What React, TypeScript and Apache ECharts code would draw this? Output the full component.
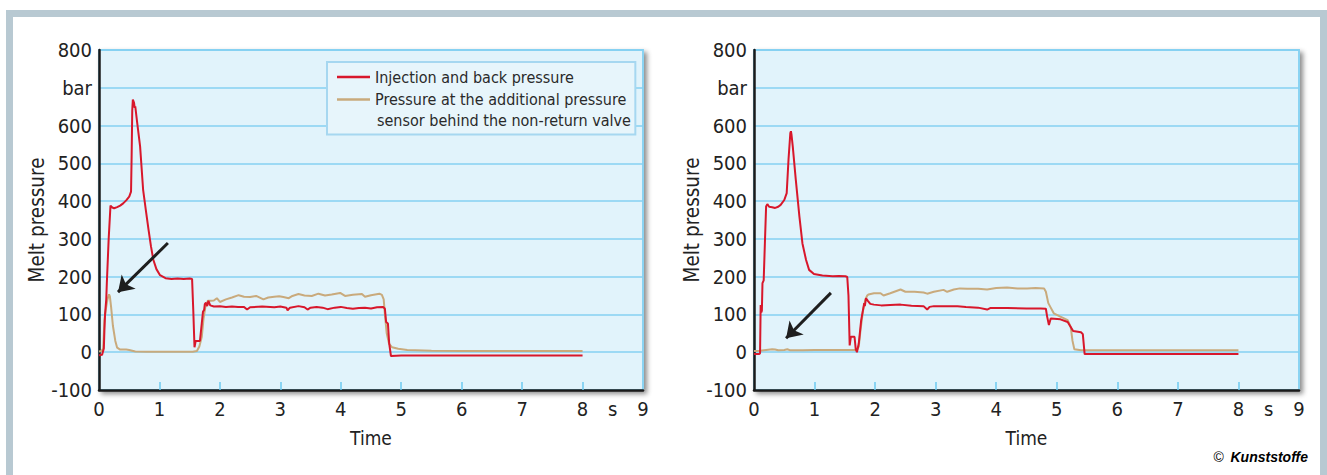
import React, { useEffect, useRef } from "react";
import * as echarts from "echarts";

// ---- Data (time in s, melt pressure in bar) ----
const leftInjection: [number, number][] = [
  [0, -8], [0.05, -7], [0.08, 10], [0.09, 60], [0.1, 100], [0.12, 140], [0.13, 185], [0.16, 300], [0.19, 388],
  [0.22, 383], [0.25, 381], [0.3, 384], [0.35, 388], [0.4, 394], [0.45, 402], [0.5, 412], [0.53, 425],
  [0.54, 520], [0.55, 640], [0.56, 669], [0.58, 660], [0.59, 647], [0.6, 651], [0.63, 610], [0.68, 545],
  [0.73, 430], [0.78, 370], [0.82, 324], [0.86, 280], [0.9, 244], [0.95, 220], [1.01, 204], [1.1, 196],
  [1.2, 194], [1.3, 195], [1.4, 194], [1.5, 195], [1.54, 194], [1.56, 110], [1.58, 13], [1.6, 30],
  [1.67, 30], [1.7, 76], [1.72, 107], [1.74, 112], [1.75, 127], [1.77, 131], [1.79, 122], [1.81, 136],
  [1.84, 124], [1.9, 121], [2.0, 122], [2.1, 120], [2.2, 121], [2.3, 120], [2.4, 120], [2.45, 113],
  [2.5, 119], [2.7, 121], [2.9, 119], [3.0, 121], [3.1, 118], [3.12, 111], [3.16, 118], [3.3, 122],
  [3.4, 119], [3.45, 113], [3.5, 118], [3.6, 120], [3.7, 118], [3.78, 114], [3.9, 118], [4.0, 120],
  [4.1, 117], [4.2, 115], [4.3, 117], [4.4, 118], [4.5, 116], [4.6, 119], [4.7, 120], [4.73, 115],
  [4.75, 80], [4.78, 76], [4.8, 25], [4.83, -10], [5.0, -9], [5.5, -9], [6.0, -9], [7.0, -9], [8.0, -9]
];

const leftSensor: [number, number][] = [
  [0, 2], [0.04, 3], [0.07, 10], [0.09, 85], [0.11, 110], [0.14, 140], [0.166, 153], [0.18, 148],
  [0.2, 120], [0.23, 70], [0.27, 30], [0.3, 12], [0.35, 7], [0.45, 7], [0.5, 6], [0.6, 2], [0.8, 1],
  [1.0, 1], [1.2, 1], [1.4, 1], [1.55, 1], [1.62, 3], [1.66, 15], [1.7, 40], [1.73, 90], [1.76, 120],
  [1.8, 136], [1.85, 136], [1.9, 137], [1.95, 143], [2.0, 133], [2.1, 140], [2.2, 145], [2.31, 151],
  [2.4, 147], [2.5, 146], [2.6, 149], [2.72, 140], [2.8, 145], [2.9, 147], [2.98, 148], [3.05, 146],
  [3.14, 143], [3.2, 149], [3.3, 154], [3.4, 150], [3.52, 149], [3.63, 155], [3.74, 150], [3.85, 153],
  [3.99, 157], [4.07, 149], [4.2, 152], [4.35, 154], [4.4, 147], [4.5, 151], [4.64, 155], [4.68, 152],
  [4.71, 140], [4.73, 100], [4.76, 50], [4.8, 22], [4.85, 13], [4.95, 9], [5.1, 6], [5.5, 4], [6.0, 3],
  [7.0, 3], [8.0, 3]
];

const rightInjection: [number, number][] = [
  [0, -5], [0.08, -5], [0.1, -3], [0.11, 125], [0.12, 105], [0.13, 110], [0.14, 183], [0.16, 190],
  [0.18, 290], [0.2, 386], [0.22, 392], [0.25, 385], [0.3, 384], [0.35, 382], [0.4, 385], [0.44, 390],
  [0.5, 403], [0.54, 421], [0.57, 510], [0.6, 580], [0.61, 585], [0.62, 575], [0.64, 545], [0.69, 457],
  [0.75, 359], [0.8, 288], [0.86, 244], [0.91, 218], [0.99, 207], [1.13, 203], [1.3, 201], [1.4, 202],
  [1.51, 201], [1.54, 199], [1.56, 150], [1.58, 18], [1.6, 41], [1.66, 41], [1.68, 8], [1.7, 0],
  [1.73, 23], [1.77, 85], [1.82, 130], [1.83, 122], [1.85, 143], [1.88, 136], [1.92, 128], [1.98, 126],
  [2.1, 124], [2.25, 125], [2.42, 126], [2.6, 123], [2.8, 122], [2.86, 113], [2.9, 120], [2.97, 122],
  [3.2, 122], [3.36, 122], [3.5, 120], [3.7, 118], [3.85, 113], [3.9, 117], [4.18, 117], [4.5, 116],
  [4.73, 116], [4.82, 115], [4.84, 95], [4.87, 72], [4.9, 89], [5.06, 87], [5.18, 80], [5.23, 67],
  [5.27, 56], [5.4, 53], [5.43, 48], [5.46, -5], [5.6, -5], [6.0, -5], [7.0, -5], [8.0, -5]
];

const rightSensor: [number, number][] = [
  [0, 3], [0.1, 4], [0.2, 6], [0.3, 8], [0.35, 7], [0.4, 5], [0.5, 6], [0.55, 8], [0.6, 5], [0.8, 5],
  [1.0, 6], [1.2, 6], [1.4, 6], [1.6, 6], [1.7, 6], [1.73, 15], [1.76, 60], [1.8, 110], [1.84, 140],
  [1.87, 150], [1.89, 153], [1.98, 156], [2.09, 156], [2.14, 150], [2.25, 156], [2.42, 166], [2.5, 160],
  [2.65, 160], [2.8, 158], [2.86, 155], [2.97, 160], [3.13, 165], [3.19, 160], [3.3, 166], [3.4, 169],
  [3.52, 168], [3.7, 168], [3.85, 166], [4.0, 170], [4.18, 171], [4.35, 169], [4.51, 169], [4.65, 170],
  [4.79, 169], [4.82, 160], [4.86, 130], [4.9, 118], [4.95, 103], [5.06, 94], [5.18, 85], [5.23, 67],
  [5.26, 30], [5.29, 8], [5.4, 5], [6.0, 5], [7.0, 5], [8.0, 5]
];

// arrows (start, end) in data coordinates
const leftArrow: [number, number][] = [[1.14, 289], [0.314, 159]];
const rightArrow: [number, number][] = [[1.27, 157], [0.53, 37]];

const seriesNames = ["Injection and back pressure", "Pressure at the additional pressure"];
const legendExtraLine = "sensor behind the non-return valve";
const xLabelValues = [0, 1, 2, 3, 4, 5, 6, 7, 8, 8.5, 9];
const xTickValues = [1, 2, 3, 4, 5, 6, 7, 8];
const yUnitValue = 700;
const yUnitLabel = "bar";
const xUnitValue = 8.5;
const xUnitLabel = "s";
const xName = "Time";
const yName = "Melt pressure";

const RED = "#d8172b";
const TAN = "#c9aa7c";
const FONT = "'Liberation Sans Narrow', 'DejaVu Sans Condensed', 'Liberation Sans', sans-serif";
const TXT = "#222";

function makeAxes(gridIndex: number) {
  const x = {
    type: "value",
    gridIndex,
    min: 0,
    max: 9,
    interval: 1,
    name: xName,
    nameLocation: "middle",
    nameGap: 38,
    nameTextStyle: { fontFamily: FONT, fontSize: 19, color: TXT },
    axisLine: { onZero: false, lineStyle: { color: "#1a1a1a", width: 2.5 } },
    axisTick: { show: true, inside: true, length: 8, customValues: xTickValues, lineStyle: { color: "#6ccaf0", width: 1.5 } },
    axisLabel: {
      customValues: xLabelValues,
      margin: 9,
      fontFamily: FONT,
      fontSize: 20,
      color: TXT,
      formatter: (v: number) => (v === xUnitValue ? xUnitLabel : String(v)),
    },
    splitLine: { show: false },
  };
  const y = {
    type: "value",
    gridIndex,
    min: -100,
    max: 800,
    interval: 100,
    name: yName,
    nameLocation: "middle",
    nameRotate: 90,
    nameGap: 51,
    nameTextStyle: { fontFamily: FONT, fontSize: 20.5, color: TXT },
    axisLine: { show: true, onZero: false, lineStyle: { color: "#1a1a1a", width: 2.5 } },
    axisTick: { show: false },
    axisLabel: {
      margin: 7,
      fontFamily: FONT,
      fontSize: 20,
      color: TXT,
      formatter: (v: number) => (v === yUnitValue ? yUnitLabel : String(v)),
    },
    splitLine: { show: true, lineStyle: { color: "#84d1f2", width: 1.5 } },
  };
  return { x, y };
}

function arrowMarkLine(pts: [number, number][]) {
  return {
    silent: true,
    symbol: ["none", "arrow"],
    symbolSize: 15,
    label: { show: false },
    lineStyle: { color: "#1e1e1e", width: 3, type: "solid" },
    emphasis: { disabled: true },
    data: [[{ coord: pts[0] }, { coord: pts[1] }]],
  };
}

export default function App() {
  const ref = useRef<HTMLDivElement>(null);
  useEffect(() => {
    if (!ref.current) return;
    const chart = echarts.init(ref.current, undefined, { renderer: "svg" });
    const a0 = makeAxes(0);
    const a1 = makeAxes(1);
    const gridCommon = {
      show: true,
      top: 50,
      height: 340,
      backgroundColor: "#e1f3fb",
      borderColor: "#8ad3f2",
      borderWidth: 2,
      shadowBlur: 5,
      shadowOffsetX: 3,
      shadowOffsetY: 3,
      shadowColor: "rgba(0,0,0,0.45)",
      containLabel: false,
    };
    const lineCommon = {
      type: "line",
      showSymbol: false,
      symbol: "none",
      smooth: false,
      silent: true,
    };
    chart.setOption({
      animation: false,
      backgroundColor: "#ffffff",
      textStyle: { fontFamily: FONT },
      grid: [
        { ...gridCommon, left: 99, width: 544 },
        { ...gridCommon, left: 754, width: 545 },
      ],
      xAxis: [a0.x, a1.x],
      yAxis: [a0.y, a1.y],
      legend: {
        show: true,
        orient: "vertical",
        left: 327,
        top: 62,
        padding: [4, 9, 24, 10],
        itemWidth: 33,
        itemHeight: 22,
        itemGap: 0.5,
        backgroundColor: "#e7f5fb",
        borderColor: "#a6d7f0",
        borderWidth: 2,
        borderRadius: 0,
        selectedMode: false,
        textStyle: { fontFamily: FONT, fontSize: 16, color: "#2a2a2a", lineHeight: 22 },
        data: [
          { name: seriesNames[0], icon: "path://M0,0H33V2.6H0Z", itemStyle: { color: RED } },
          { name: seriesNames[1], icon: "path://M0,0H33V2.6H0Z", itemStyle: { color: TAN } },
        ],
      },
      graphic: [
        {
          type: "rect",
          silent: true,
          z: -10,
          shape: { x: 9.5, y: 13.5, width: 1314, height: 480 },
          style: { fill: "#ffffff", stroke: "#b8c9d2", lineWidth: 7 },
        },
        {
          type: "text",
          left: 377,
          top: 112,
          z: 100,
          style: { text: legendExtraLine, font: `16px ${FONT}`, fill: "#2a2a2a" },
        },
        {
          type: "text",
          right: 19,
          top: 450,
          style: {
            text: "{a|©}  {b|Kunststoffe}",
            rich: {
              a: { fontFamily: "'Liberation Sans', sans-serif", fontSize: 14, color: "#222" },
              b: { fontFamily: "'Liberation Sans', sans-serif", fontSize: 14, fontWeight: "bold", fontStyle: "italic", color: "#222" },
            },
          },
        },
      ],
      series: [
        { ...lineCommon, name: seriesNames[0], xAxisIndex: 0, yAxisIndex: 0, data: leftInjection, z: 3,
          lineStyle: { color: RED, width: 2 }, itemStyle: { color: RED }, markLine: arrowMarkLine(leftArrow) },
        { ...lineCommon, name: seriesNames[1], xAxisIndex: 0, yAxisIndex: 0, data: leftSensor, z: 2,
          lineStyle: { color: TAN, width: 2 }, itemStyle: { color: TAN } },
        { ...lineCommon, name: seriesNames[0], xAxisIndex: 1, yAxisIndex: 1, data: rightInjection, z: 3,
          lineStyle: { color: RED, width: 2 }, itemStyle: { color: RED }, markLine: arrowMarkLine(rightArrow) },
        { ...lineCommon, name: seriesNames[1], xAxisIndex: 1, yAxisIndex: 1, data: rightSensor, z: 2,
          lineStyle: { color: TAN, width: 2 }, itemStyle: { color: TAN } },
      ],
    });
    return () => chart.dispose();
  }, []);
  return (
    <div
      ref={ref}
      style={{ position: "fixed", left: 0, top: 0, width: 1327, height: 475 }}
    />
  );
}
